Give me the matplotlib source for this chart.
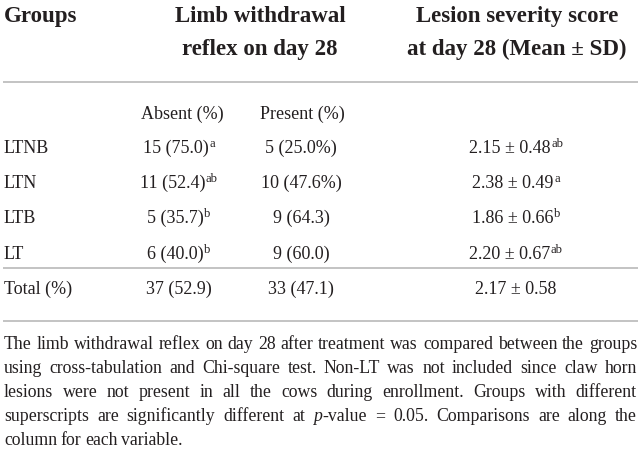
import matplotlib.pyplot as plt

plt.rcParams['font.family'] = ['Liberation Serif', 'DejaVu Serif']

# table data
groups = ['LTNB', 'LTN', 'LTB', 'LT']
absent_n = [15, 11, 5, 6]
absent_pct = [75.0, 52.4, 35.7, 40.0]
absent_sup = ['a', 'ab', 'b', 'b']
present_n = [5, 10, 9, 9]
present_pct = [25.0, 47.6, 64.3, 60.0]
present_pct_sign = [True, True, False, False]
lesion_mean = [2.15, 2.38, 1.86, 2.20]
lesion_sd = [0.48, 0.49, 0.66, 0.67]
lesion_sup = ['ab', 'a', 'b', 'ab']
total_absent = (37, 52.9)
total_present = (33, 47.1)
total_lesion = (2.17, 0.58)

header_groups = 'Groups'
header_limb = ['Limb withdrawal', 'reflex on day 28']
header_lesion = ['Lesion severity score', 'at day 28 (Mean \u00b1 SD)']
sub_headers = ['Absent (%)', 'Present (%)']

# footnote, line breaks as in the source; *word* = italic part
note_lines = [
    'The limb withdrawal reflex on day 28 after treatment was compared between the groups',
    'using cross-tabulation and Chi-square test. Non-LT was not included since claw horn',
    'lesions were not present in all the cows during enrollment. Groups with different',
    'superscripts are significantly different at *p*-value = 0.05. Comparisons are along the',
    'column for each variable.',
]

INK = '#231f20'
RULE = '#b9b9b9'
W, H = 641, 451

fig = plt.figure(figsize=(W / 100, H / 100), dpi=100)
ax = fig.add_axes([0, 0, 1, 1])
ax.set_xlim(0, W)
ax.set_ylim(H, 0)
ax.axis('off')
renderer = fig.canvas.get_renderer()


def width(t):
    return t.get_window_extent(renderer).width


def cell(xc, yb, main, sup='', size=13):
    t1 = ax.text(0, yb, main, fontsize=size, color=INK, va='baseline', ha='left')
    w1 = width(t1)
    t2 = None
    w2 = 0
    if sup:
        t2 = ax.text(0, yb - 6, sup, fontsize=9, color=INK, va='baseline', ha='left')
        w2 = width(t2) + 0.5
    x0 = xc - (w1 + w2) / 2
    t1.set_x(x0)
    if t2 is not None:
        t2.set_x(x0 + w1 + 0.5)


# headers
ax.text(4, 22, header_groups, fontsize=16.5, fontweight='bold', color=INK, va='baseline')
for i, line in enumerate(header_limb):
    ax.text(260, 22 + 33 * i, line, fontsize=16.5, fontweight='bold', color=INK,
            va='baseline', ha='center')
for i, line in enumerate(header_lesion):
    ax.text(517, 22 + 33 * i, line, fontsize=16.5, fontweight='bold', color=INK,
            va='baseline', ha='center')

ax.plot([3, 638], [82, 82], color=RULE, lw=1.2, solid_capstyle='butt')

cell(182, 119, sub_headers[0])
cell(302, 119, sub_headers[1])

# body rows
col_abs, col_pre, col_les = 179, 301, 516
row_base = [153, 188, 223, 259]
for i, g in enumerate(groups):
    yb = row_base[i]
    ax.text(4, yb, g, fontsize=13, color=INK, va='baseline')
    cell(col_abs, yb, f'{absent_n[i]} ({absent_pct[i]:.1f})', absent_sup[i])
    pct = f'{present_pct[i]:.1f}%' if present_pct_sign[i] else f'{present_pct[i]:.1f}'
    cell(col_pre, yb, f'{present_n[i]} ({pct})')
    cell(col_les, yb, f'{lesion_mean[i]:.2f} \u00b1 {lesion_sd[i]:.2f}', lesion_sup[i])

ax.plot([3, 638], [268, 268], color=RULE, lw=1.2, solid_capstyle='butt')

yb = 294
ax.text(4, yb, 'Total (%)', fontsize=13, color=INK, va='baseline')
cell(col_abs, yb, f'{total_absent[0]} ({total_absent[1]:.1f})')
cell(col_pre, yb, f'{total_present[0]} ({total_present[1]:.1f})')
cell(col_les, yb, f'{total_lesion[0]:.2f} \u00b1 {total_lesion[1]:.2f}')

ax.plot([3, 638], [321, 321], color=RULE, lw=1.2, solid_capstyle='butt')

# justified footnote
left, right = 4, 637
for li, line in enumerate(note_lines):
    yb = 349 + 24 * li
    words = []
    for w in line.split(' '):
        parts = []
        if '*' in w:
            bits = w.split('*')
            for k, b in enumerate(bits):
                if b:
                    parts.append((b, 'italic' if k % 2 == 1 else 'normal'))
        else:
            parts.append((w, 'normal'))
        objs = []
        ww = 0
        for txt, st in parts:
            t = ax.text(0, yb, txt, fontsize=12.8, style=st, color=INK, va='baseline')
            objs.append((t, width(t)))
            ww += width(t)
        words.append((objs, ww))
    total = sum(ww for _, ww in words)
    last = li == len(note_lines) - 1
    gap = 3.6 if last else (right - left - total) / (len(words) - 1)
    x = left
    for objs, ww in words:
        xx = x
        for t, tw in objs:
            t.set_x(xx)
            xx += tw
        x += ww + gap

fig.savefig('out.png', dpi=100)
